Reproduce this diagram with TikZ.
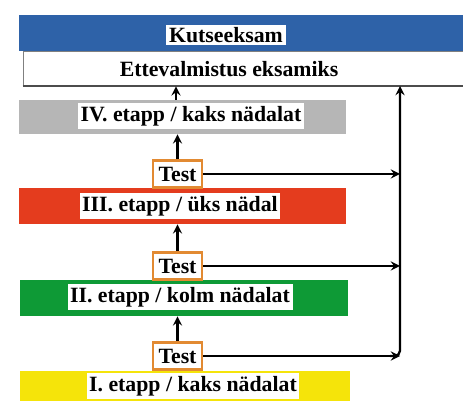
\documentclass[tikz,border=0pt]{standalone}
\usepackage{fontspec}
\setmainfont{Liberation Serif}
\usepackage{tikz}

\definecolor{examblue}{RGB}{46,98,168}
\definecolor{stagegray}{RGB}{182,182,182}
\definecolor{stagered}{RGB}{228,60,30}
\definecolor{stagegreen}{RGB}{14,154,54}
\definecolor{stageyellow}{RGB}{245,228,10}
\definecolor{testorange}{RGB}{226,138,50}

\tikzset{
  bar/.style={rectangle, inner sep=0pt, minimum width=6.54cm, minimum height=0.7cm},
  lbl/.style={fill=white, inner sep=1.5pt, font=\fontsize{12.4}{14}\selectfont\bfseries},
  testbox/.style={draw=testorange, line width=1.5pt, fill=white, inner sep=0pt,
    minimum width=0.98cm, minimum height=0.54cm, font=\fontsize{12.4}{14}\selectfont\bfseries},
  link/.style={->, >=stealth, line width=1.3pt}
}

\begin{document}
\begin{tikzpicture}[x=0.02cm, y=-0.02cm]
\useasboundingbox (0,0) rectangle (463,401);

% top blocks
\node[bar, fill=examblue, minimum width=8.88cm, minimum height=0.72cm] (exam) at (241,33) {};
\node[lbl] at (226,35) {Kutseeksam};
\node[bar, fill=white, draw=gray, minimum width=8.8cm] (prep) at (243,68.5) {};
\draw[line width=1pt, gray!60!black] (prep.south west) -- (prep.south east);
\node[lbl] at (229,69) {Ettevalmistus eksamiks};

% stages
\node[bar, fill=stagegray, minimum height=0.68cm] (s4) at (182.5,117) {};
\node[lbl] at (191,116) {IV. etapp / kaks nädalat};
\node[bar, fill=stagered, minimum height=0.72cm] (s3) at (182.5,206) {};
\node[lbl] at (180,206) {III. etapp / üks nädal};
\node[bar, fill=stagegreen, minimum width=6.56cm, minimum height=0.72cm] (s2) at (184,298) {};
\node[lbl] at (180,297) {II. etapp / kolm nädalat};
\node[bar, fill=stageyellow, minimum width=6.6cm, minimum height=0.62cm] (s1) at (185,386) {};
\node[lbl] at (193,386) {I. etapp / kaks nädalat};

% tests
\node[testbox] (t1) at (177.5,174) {Test};
\node[testbox] (t2) at (177.5,266) {Test};
\node[testbox] (t3) at (177.5,356) {Test};

\coordinate (bus) at (400,86);

% arrows up
\draw[link] (s4.north -| 176,0) -- (prep.south -| 176,0);
\draw[link] (t1.north) -- (s4.south -| t1.north);
\draw[link] (t2.north) -- (s3.south -| t2.north);
\draw[link] (t3.north) -- (s2.south -| t3.north);

% arrows to the right line
\draw[link] (t1.east) -- (t1.east -| bus);
\draw[link] (t2.east) -- (t2.east -| bus);
\draw[link] (t3.east) -- (t3.east -| bus);
\draw[link, rounded corners=3pt] (t3.east -| 390,0) -| (bus);
\end{tikzpicture}
\end{document}
